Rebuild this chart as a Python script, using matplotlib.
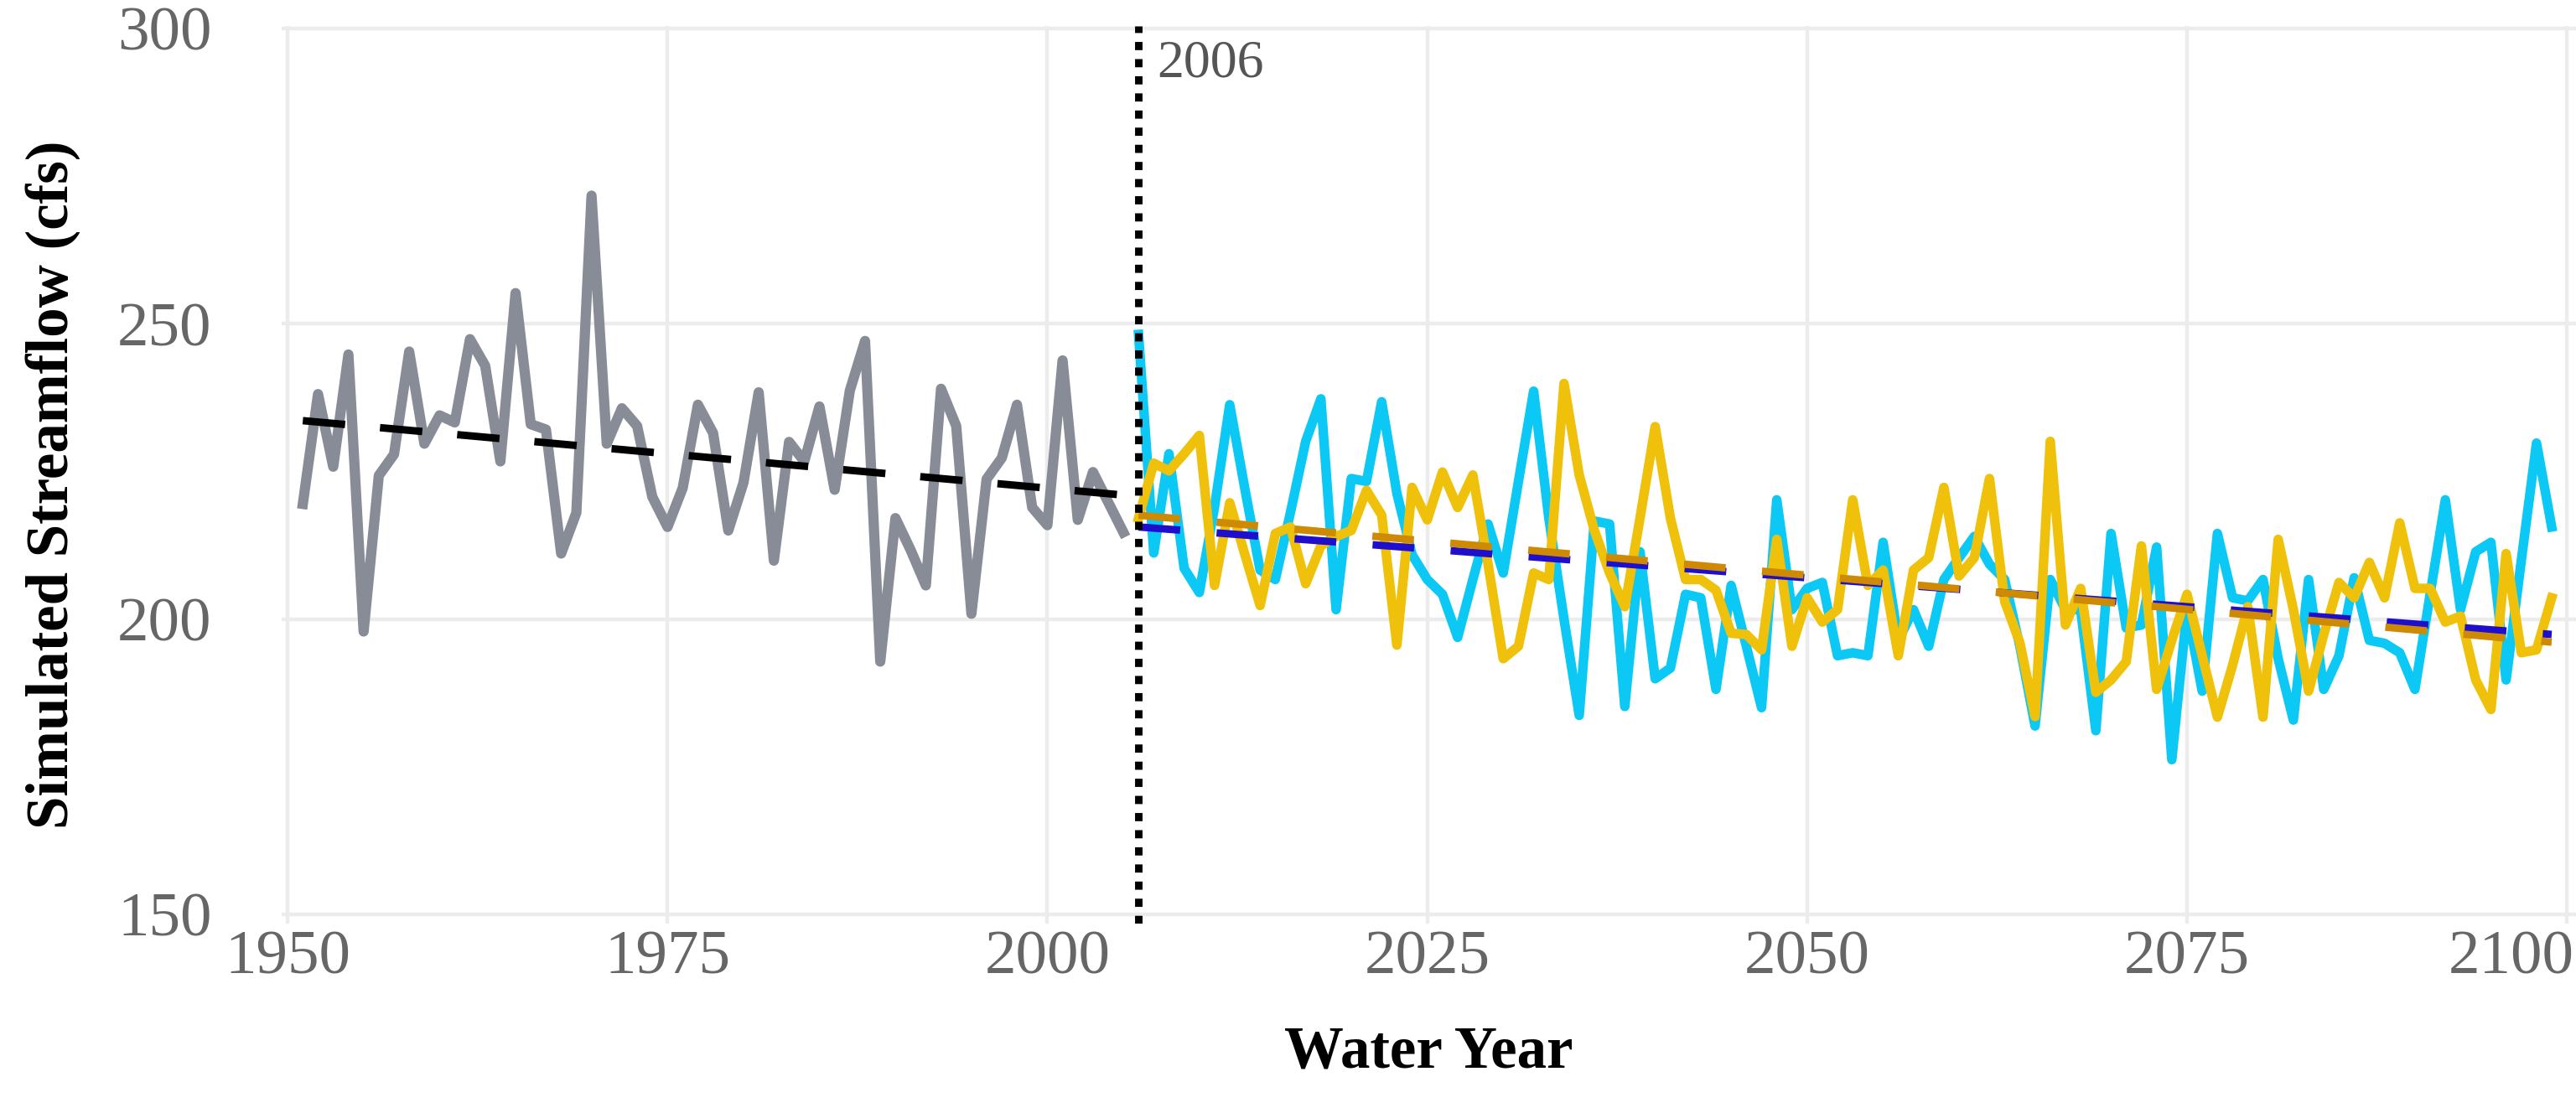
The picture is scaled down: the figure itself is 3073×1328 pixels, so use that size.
import matplotlib
matplotlib.use("Agg")
import matplotlib.pyplot as plt
import matplotlib.transforms as mtransforms

plt.rcParams['font.family'] = ['Liberation Serif', 'DejaVu Serif']

# historical simulation (grey), water years 1951-2005
hist_years = list(range(1951, 2006))
hist_flow = [219.5, 238.1, 225.8, 244.8, 197.9, 224.3, 227.9, 245.3, 229.7, 234.5,
             233.3, 247.4, 242.9, 226.7, 255.2, 233.0, 232.1, 211.1, 218.0, 271.7,
             229.7, 235.7, 232.7, 220.7, 215.6, 222.2, 236.3, 231.5, 215.0, 223.1,
             238.4, 209.9, 230.0, 226.7, 236.0, 221.9, 238.7, 247.1, 192.8, 217.1,
             211.7, 205.7, 239.0, 232.7, 200.9, 223.7, 227.3, 236.3, 218.9, 215.9,
             243.8, 216.8, 224.9, 219.8, 214.7]

# future projections, water years 2006-2099
fut_years = list(range(2006, 2100))
cyan_flow = [248.2, 211.2, 228.0, 208.6, 204.5, 219.0, 236.3, 222.0, 208.3, 206.7,
             218.1, 230.1, 237.3, 201.6, 223.8, 223.3, 236.8, 221.3, 210.9, 206.7,
             204.2, 196.9, 206.7, 216.1, 207.8, 223.3, 238.6, 217.1, 200.0, 183.7,
             216.6, 216.1, 185.2, 211.4, 189.9, 191.7, 204.2, 203.6, 188.1, 205.7,
             195.4, 185.0, 220.2, 201.6, 205.2, 206.2, 193.8, 194.3, 193.8, 213.0,
             196.4, 201.6, 195.4, 206.7, 210.4, 214.0, 209.3, 206.7, 195.4, 181.9,
             206.7, 201.6, 201.6, 181.1, 214.5, 198.5, 199.0, 212.2, 176.2, 201.6,
             187.8, 214.5, 203.6, 203.1, 206.7, 193.3, 182.9, 206.7, 188.1, 193.8,
             207.0, 196.4, 195.9, 194.3, 188.1, 204.2, 220.2, 201.6, 211.4, 213.0,
             189.7, 209.9, 229.8, 215.6]
yellow_flow = [217.1, 226.4, 225.1, 228.0, 231.1, 205.7, 219.7, 210.9, 202.3, 214.5,
               215.6, 206.0, 212.4, 214.0, 215.0, 221.8, 217.6, 195.6, 222.3, 216.8,
               224.9, 218.9, 224.4, 209.3, 193.3, 195.4, 207.8, 206.7, 239.9, 224.4,
               215.0, 207.8, 202.1, 217.1, 232.6, 217.1, 206.7, 206.7, 204.9, 197.6,
               197.4, 194.8, 213.5, 195.4, 203.6, 199.5, 201.6, 220.2, 205.7, 208.3,
               193.8, 208.3, 210.4, 222.3, 207.3, 210.4, 223.8, 203.0, 196.0, 183.5,
               230.1, 199.0, 205.2, 187.6, 189.7, 192.8, 212.4, 188.1, 196.4, 204.2,
               193.8, 183.4, 192.2, 202.1, 183.4, 213.5, 201.6, 187.8, 197.4, 206.2,
               203.6, 209.6, 203.6, 216.3, 205.2, 205.2, 199.5, 200.5, 189.7, 184.7,
               211.1, 194.3, 194.8, 203.6]

# linear trend lines, end points
hist_trend_years = [1951, 2005]
hist_trend = [233.6, 221.0]
fut_trend_years = [2006, 2099]
blue_trend = [215.6, 197.4]
orange_trend = [217.6, 196.1]

split_year = 2006
x_ticks = [1950, 1975, 2000, 2025, 2050, 2075, 2100]
y_ticks = [150, 200, 250, 300]

fig = plt.figure(figsize=(15.365, 6.64), dpi=200)
ax = fig.add_axes([0.1093, 0.1705, 0.8907, 0.8060])

# data lines
ax.plot(hist_years, hist_flow, color='#878c97', lw=4.4, solid_joinstyle='round', zorder=3)
ax.plot(fut_years, cyan_flow, color='#0cc8f4', lw=4.1, solid_joinstyle='round', zorder=3)
ax.plot(fut_years, yellow_flow, color='#efc10a', lw=4.1, solid_joinstyle='round', zorder=4)

# trends
ax.plot(hist_trend_years, hist_trend, color='black', lw=3.2, dashes=(5.7, 4.7), zorder=5)
ax.plot(fut_trend_years, blue_trend, color='#1f0fcc', lw=3.2, dashes=(5.6, 4.9), zorder=5)
ax.plot(fut_trend_years, orange_trend, color='#cf8a04', lw=3.2, dashes=(5.6, 4.9), zorder=6)

# start of projections
ax.axvline(split_year, color='black', lw=3.2, linestyle=(0, (1.1, 1.2)), zorder=7)
ax.text(split_year + 1.2, 294, str(split_year), color='#555555', fontsize=23,
        va='center', ha='left')

ax.set_xlim(1949.6, 2100.6)
ax.set_ylim(148.5, 300.4)
ax.set_xticks(x_ticks)
ax.set_yticks(y_ticks)
ax.grid(True, color='#ececec', lw=1.6, zorder=0)
ax.set_axisbelow(True)
for s in ax.spines.values():
    s.set_visible(False)
ax.tick_params(length=0, labelsize=27, labelcolor='#666666')
ax.tick_params(axis='y', pad=30)
ax.tick_params(axis='x', pad=2.9)
last = ax.get_xticklabels()[-1]
last.set_horizontalalignment('right')
last.set_transform(last.get_transform() + mtransforms.ScaledTranslation(0.045, 0, fig.dpi_scale_trans))

ax.set_xlabel('Water Year', fontsize=25.5, fontweight='bold')
ax.set_ylabel('Simulated Streamflow (cfs)', fontsize=25.5, fontweight='bold')
ax.xaxis.set_label_coords(0.5, -0.1139)
ax.yaxis.set_label_coords(-0.0877, 0.489)

fig.savefig('out.png', dpi=200, facecolor='white')
